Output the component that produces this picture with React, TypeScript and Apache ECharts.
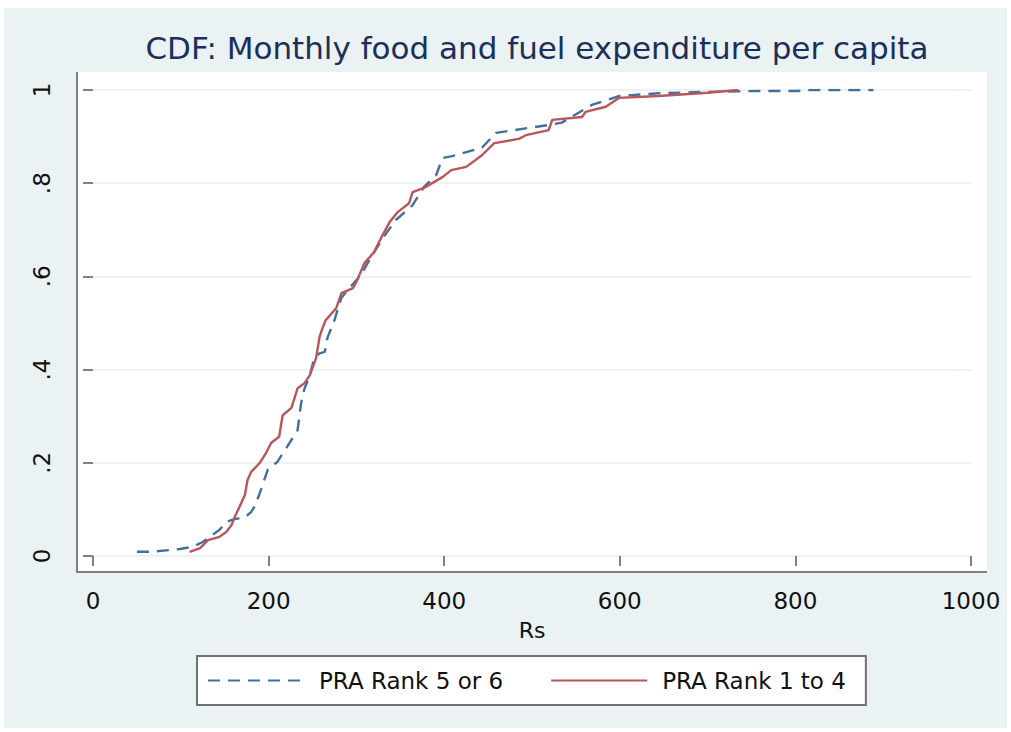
import React, { useEffect, useRef } from "react";
import * as echarts from "echarts";

const titleText = "CDF: Monthly food and fuel expenditure per capita";
const xTitle = "Rs";
const seriesNames = ["PRA Rank 5 or 6", "PRA Rank 1 to 4"];

const rank56: [number, number][] = [
  [50, 0.009], [67, 0.009], [99, 0.015], [114, 0.02], [125, 0.03], [136, 0.045], [144, 0.056],
  [152, 0.073], [161, 0.079], [173, 0.083], [180, 0.094], [184, 0.106], [190, 0.135], [195, 0.163],
  [199, 0.185], [210, 0.202], [224, 0.243], [233, 0.27], [237, 0.328], [241, 0.36], [247, 0.388],
  [252, 0.425], [258, 0.435], [264, 0.438], [267, 0.468], [275, 0.506], [281, 0.543], [283, 0.554],
  [292, 0.575], [305, 0.603], [317, 0.642], [330, 0.682], [345, 0.721], [364, 0.753], [377, 0.792],
  [391, 0.818], [398, 0.854], [409, 0.858], [443, 0.876], [459, 0.908], [519, 0.925], [534, 0.93],
  [568, 0.968], [599, 0.987], [644, 0.993], [700, 0.996], [760, 0.998], [803, 0.998], [815, 1.0],
  [889, 1.0],
];

const rank14: [number, number][] = [
  [110, 0.009], [122, 0.017], [131, 0.034], [144, 0.041], [152, 0.052], [158, 0.067], [161, 0.082],
  [167, 0.106], [173, 0.131], [176, 0.163], [180, 0.18], [190, 0.2], [197, 0.221], [203, 0.243],
  [212, 0.256], [216, 0.302], [226, 0.318], [233, 0.36], [241, 0.371], [247, 0.388], [254, 0.424],
  [258, 0.47], [262, 0.492], [265, 0.506], [277, 0.532], [283, 0.564], [296, 0.575], [300, 0.588],
  [309, 0.628], [320, 0.652], [328, 0.682], [338, 0.717], [347, 0.738], [360, 0.757], [364, 0.781],
  [377, 0.79], [398, 0.813], [408, 0.828], [425, 0.835], [443, 0.86], [457, 0.886], [485, 0.895],
  [493, 0.903], [519, 0.914], [523, 0.936], [557, 0.942], [561, 0.953], [584, 0.964], [599, 0.983],
  [644, 0.987], [700, 0.994], [735, 1.0],
];

const FONT = "DejaVu Sans";
const AXIS_COLOR = "#808080";
const BG = "#eaf2f3";
const BLUE = "#42709a";
const RED = "#b9555b";

export default function App() {
  const ref = useRef<HTMLDivElement>(null);
  useEffect(() => {
    if (!ref.current) return;
    const chart = echarts.init(ref.current, undefined, { renderer: "svg" });
    chart.setOption({
      animation: false,
      backgroundColor: "#ffffff",
      title: {
        text: titleText,
        left: 532,
        top: 27,
        textAlign: "center",
        textStyle: { fontFamily: FONT, fontSize: 31, fontWeight: "normal", color: "#1c2f5b" },
      },
      graphic: [
        { type: "rect", z: -10, silent: true, shape: { x: 4, y: 8, width: 1003, height: 720 }, style: { fill: BG } },
        { type: "rect", z: -9, silent: true, shape: { x: 77, y: 72, width: 910, height: 500 }, style: { fill: "#ffffff" } },
        { type: "line", z: 5, silent: true, shape: { x1: 77, y1: 72, x2: 77, y2: 573 }, style: { stroke: AXIS_COLOR, lineWidth: 2 } },
        { type: "line", z: 5, silent: true, shape: { x1: 76, y1: 572, x2: 987, y2: 572 }, style: { stroke: AXIS_COLOR, lineWidth: 2 } },
      ],
      grid: { left: 93, right: 40, top: 90, bottom: 176, containLabel: false },
      legend: {
        left: 197,
        top: 656,
        data: seriesNames,
        backgroundColor: "#ffffff",
        borderColor: "#707070",
        borderWidth: 2,
        borderRadius: 0,
        padding: [13, 20, 13, 10],
        itemGap: 47,
        itemWidth: 96,
        itemHeight: 14,
        itemStyle: { opacity: 0 },
        textStyle: { fontFamily: FONT, fontSize: 23, color: "#111111", padding: [0, 0, 0, 10] },
      },
      xAxis: {
        type: "value",
        min: 0,
        max: 1000,
        interval: 200,
        offset: 16,
        name: xTitle,
        nameLocation: "middle",
        nameGap: 47,
        nameTextStyle: { fontFamily: FONT, fontSize: 22, color: "#111111" },
        axisLine: { show: false },
        axisTick: { show: true, length: 10, lineStyle: { color: AXIS_COLOR, width: 2 } },
        axisLabel: {
          margin: 17,
          fontFamily: FONT,
          fontSize: 23,
          color: "#111111",
          formatter: (v: number) => String(v),
        },
        splitLine: { show: false },
      },
      yAxis: {
        type: "value",
        min: 0,
        max: 1,
        interval: 0.2,
        offset: 16,
        axisLine: { show: false },
        axisTick: { show: true, length: 10, lineStyle: { color: AXIS_COLOR, width: 2 } },
        axisLabel: {
          rotate: 90,
          margin: 24,
          fontFamily: FONT,
          fontSize: 23,
          color: "#111111",
          formatter: (v: number) => (v === 0 ? "0" : v === 1 ? "1" : String(Number(v.toFixed(1))).replace(/^0/, "")),
        },
        splitLine: { show: true, lineStyle: { color: BG, width: 2 } },
      },
      series: [
        {
          name: seriesNames[0],
          type: "line",
          data: rank56,
          symbol: "none",
          z: 3,
          lineStyle: { color: BLUE, width: 2.4, type: [12, 8] },
          itemStyle: { color: BLUE },
        },
        {
          name: seriesNames[1],
          type: "line",
          data: rank14,
          symbol: "none",
          z: 4,
          lineStyle: { color: RED, width: 2.4 },
          itemStyle: { color: RED },
        },
      ],
    });
    return () => chart.dispose();
  }, []);
  return (
    <div
      ref={ref}
      style={{ position: "absolute", left: 0, top: 0, width: 1011, height: 732 }}
    />
  );
}
